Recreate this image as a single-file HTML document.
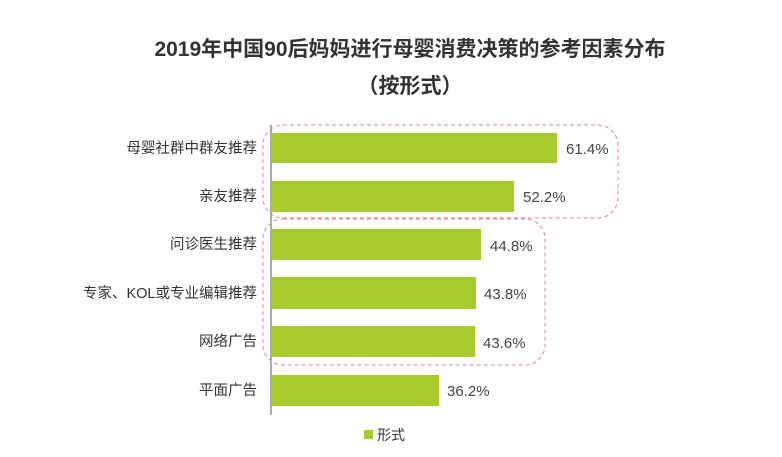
<!DOCTYPE html>
<html><head><meta charset="utf-8"><style>
body{margin:0;width:782px;height:457px;background:#fff;overflow:hidden;font-family:"Liberation Sans","Noto Sans CJK SC",sans-serif;}
</style></head><body>
<svg width="782" height="457" xmlns="http://www.w3.org/2000/svg" style="position:absolute;left:0;top:0">
<g font-family="Liberation Sans, Noto Sans CJK SC, sans-serif">
<text x="410" y="56" text-anchor="middle" font-size="21" font-weight="bold" fill="#333">2019年中国90后妈妈进行母婴消费决策的参考因素分布</text>
<text x="410" y="93" text-anchor="middle" font-size="21" font-weight="bold" fill="#333">（按形式）</text>
<line x1="271" y1="125" x2="271" y2="415" stroke="#555" stroke-width="1"/>
<g fill="#a8cc2e">
<rect x="271" y="133" width="286" height="30"/>
<rect x="271" y="181" width="243" height="31"/>
<rect x="271" y="229" width="210" height="31"/>
<rect x="271" y="277" width="205" height="32"/>
<rect x="271" y="326" width="204" height="31"/>
<rect x="271" y="375" width="168" height="31"/>
</g>
<g font-size="15" fill="#444">
<text x="566" y="154">61.4%</text>
<text x="523" y="202">52.2%</text>
<text x="490" y="251">44.8%</text>
<text x="484" y="299">43.8%</text>
<text x="483" y="348">43.6%</text>
<text x="447" y="396">36.2%</text>
</g>
<g font-size="14.5" fill="#333" text-anchor="end">
<text x="257" y="153">母婴社群中群友推荐</text>
<text x="257" y="201">亲友推荐</text>
<text x="257" y="249">问诊医生推荐</text>
<text x="257" y="298">专家、KOL或专业编辑推荐</text>
<text x="257" y="346">网络广告</text>
<text x="257" y="395">平面广告</text>
</g>
<g fill="none" stroke="#d98a95" stroke-width="1" stroke-dasharray="4,3">
<rect x="263" y="125" width="355" height="93" rx="20"/>
<rect x="263" y="219" width="282" height="146" rx="20"/>
</g>
<rect x="364" y="430" width="9" height="9" fill="#a8cc2e"/>
<text x="377" y="440" font-size="14" fill="#333">形式</text>
</g>
</svg>
</body></html>
